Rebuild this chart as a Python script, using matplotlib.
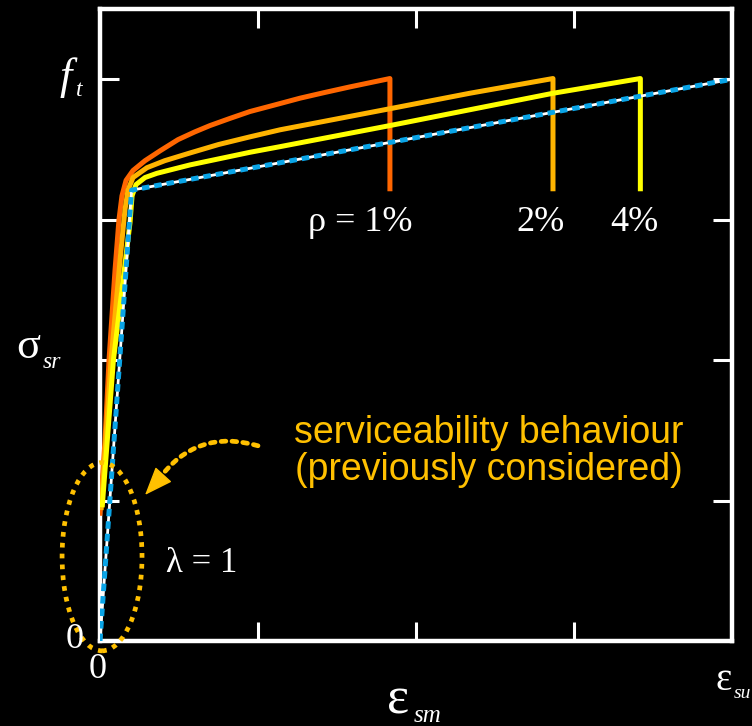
import matplotlib
matplotlib.use("Agg")
import matplotlib.pyplot as plt
from matplotlib.patches import Ellipse

# curve data (x: strain, y: stress, axis units)
bare_x = [0.0, 0.20, 4.0]
bare_y = [0.0, 3.21, 4.0]

rho1_x = [0.0, 0.032, 0.057, 0.095, 0.12, 0.139, 0.165, 0.209, 0.285, 0.38, 0.494,
          0.6, 0.696, 0.82, 0.949, 1.1, 1.266, 1.42, 1.58, 1.835, 1.835]
rho1_y = [0.91, 1.43, 2.0, 2.64, 3.0, 3.17, 3.28, 3.35, 3.42, 3.49, 3.57,
          3.625, 3.67, 3.72, 3.77, 3.815, 3.865, 3.905, 3.945, 4.005, 3.22]

rho2_x = [0.008, 0.07, 0.13, 0.158, 0.177, 0.209, 0.297, 0.41, 0.57, 0.75, 0.95, 1.14,
          1.835, 2.34, 2.867, 2.867]
rho2_y = [0.95, 2.0, 2.75, 3.07, 3.21, 3.30, 3.37, 3.42, 3.475, 3.535, 3.59, 3.64,
          3.79, 3.90, 4.005, 3.22]

rho4_x = [0.015, 0.085, 0.19, 0.203, 0.228, 0.285, 0.36, 0.57, 0.95, 1.14, 1.835,
          2.867, 3.42, 3.42]
rho4_y = [0.97, 2.0, 2.98, 3.17, 3.25, 3.30, 3.33, 3.39, 3.48, 3.52, 3.67,
          3.90, 4.005, 3.22]

rho_labels = ["\u03c1 = 1%", "2%", "4%"]
rho_label_x = [1.65, 2.79, 3.38]

W, H = 752, 726
fig = plt.figure(figsize=(W / 100, H / 100), dpi=100, facecolor="black")
ax = fig.add_axes([100 / W, 1 - 641 / H, 632 / W, 632 / H])
ax.set_facecolor("black")
ax.set_xlim(0, 4)
ax.set_ylim(0, 4.5)

for s in ax.spines.values():
    s.set_color("white")
    s.set_linewidth(3.2)
    s.set_capstyle("projecting")

ax.set_xticks([1, 2, 3])
ax.set_yticks([1, 2, 3, 4])
ax.tick_params(direction="in", length=14, width=2.2, color="white",
               top=True, right=True, labelbottom=False, labelleft=False)

ax.plot(rho1_x, rho1_y, color="#FF6600", lw=3.6, solid_joinstyle="round", zorder=3)
ax.plot(rho2_x, rho2_y, color="#FFB400", lw=3.6, solid_joinstyle="round", zorder=4)
ax.plot(rho4_x, rho4_y, color="#FFFF00", lw=3.6, solid_joinstyle="round", zorder=5)
ax.plot(bare_x, bare_y, color="white", lw=2.0, zorder=6)
ax.plot(bare_x, bare_y, color="#0AA4E6", lw=3.6, dashes=(1.5, 1.0), zorder=7)

serif = "Liberation Serif"
for lab, lx in zip(rho_labels, rho_label_x):
    ax.text(lx, 2.98, lab, color="white", fontsize=26, family=serif,
            ha="center", va="center")

ax.text(0.42, 0.55, "\u03bb = 1", color="white", fontsize=25, family=serif,
        ha="left", va="center")

amber = "#FFC000"
ax.text(2.459, 1.35, "serviceability behaviour\n(previously considered)",
        color=amber, fontsize=27, family="Liberation Sans",
        ha="center", va="center", linespacing=1.05)

ell = Ellipse((0.013, 0.6), 0.506, 1.34, fill=False, ec=amber, lw=3.4,
              ls=(0, (1, 1.3)), clip_on=False, zorder=8)
ax.add_patch(ell)

# dotted arc, then a solid head at its end
ax.annotate("", xy=(0.37, 1.15), xytext=(1.0, 1.39),
            arrowprops=dict(arrowstyle="-", color=amber, lw=3.4,
                            ls=(0, (1, 1.3)),
                            connectionstyle="arc3,rad=0.35",
                            shrinkA=0, shrinkB=0),
            zorder=8)
ax.annotate("", xy=(0.285, 1.04), xytext=(0.39, 1.17),
            arrowprops=dict(arrowstyle="-|>,head_length=1.8,head_width=0.7",
                            color=amber, lw=1,
                            shrinkA=0, shrinkB=0),
            zorder=8)


def fpx(x, y):
    return x / W, 1 - y / H


# axis labels built from separate pieces
fig.text(*fpx(66, 78), "f", color="white", fontsize=32, family=serif,
         style="italic", ha="center", va="center")
fig.text(*fpx(79, 91), "t", color="white", fontsize=17, family=serif,
         style="italic", ha="center", va="center")

fig.text(*fpx(28, 347), "\u03c3", color="white", fontsize=32, family=serif,
         ha="center", va="center")
fig.text(*fpx(52, 362), "sr", color="white", fontsize=17, family=serif,
         style="italic", ha="center", va="center")

fig.text(*fpx(75, 639), "0", color="white", fontsize=26, family=serif,
         ha="center", va="center")
fig.text(*fpx(98, 669), "0", color="white", fontsize=26, family=serif,
         ha="center", va="center")

fig.text(*fpx(398, 700), "\u03b5", color="white", fontsize=38, family=serif,
         ha="center", va="center")
fig.text(*fpx(428, 716), "sm", color="white", fontsize=18, family=serif,
         style="italic", ha="center", va="center")

fig.text(*fpx(724, 680), "\u03b5", color="white", fontsize=28, family=serif,
         ha="center", va="center")
fig.text(*fpx(734, 694), "su", color="white", fontsize=14, family=serif,
         style="italic", ha="left", va="center")

fig.savefig("out.png", dpi=100, facecolor="black")
